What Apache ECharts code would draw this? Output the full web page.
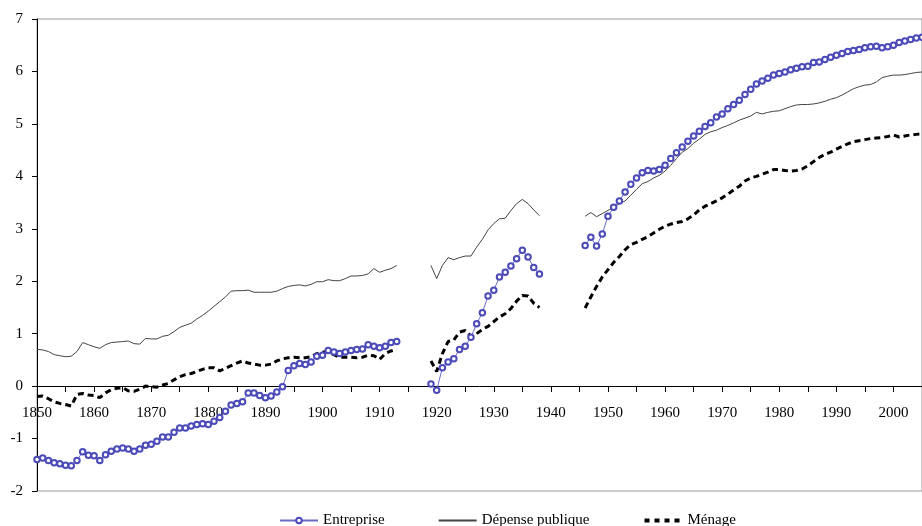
<!DOCTYPE html>
<html>
<head>
<meta charset="utf-8">
<script src="https://cdn.jsdelivr.net/npm/echarts@6/dist/echarts.min.js"></script>
<style>
  html, body { margin: 0; padding: 0; background: #fff; }
  #chart { width: 922px; height: 526px; }
</style>
</head>
<body>
<div id="chart"></div>
<script>
// années 1850-2005 (axe des catégories)
var years = [];
for (var y = 1850; y <= 2005; y++) years.push(String(y));

// trois périodes : 1850-1913, 1919-1938, 1946-2005
var entreprise1850 = [
  -1.40, -1.37, -1.42, -1.46, -1.48, -1.51, -1.52, -1.42, -1.25, -1.32,
  -1.33, -1.42, -1.31, -1.24, -1.20, -1.18, -1.20, -1.24, -1.20, -1.13,
  -1.11, -1.05, -0.97, -0.97, -0.88, -0.80, -0.80, -0.76, -0.73, -0.72,
  -0.73, -0.67, -0.60, -0.48, -0.36, -0.33, -0.30, -0.13, -0.13, -0.18,
  -0.22, -0.19, -0.11, -0.01, 0.30, 0.39, 0.43, 0.41, 0.46, 0.57,
  0.59, 0.68, 0.65, 0.62, 0.65, 0.68, 0.70, 0.71, 0.79, 0.76,
  0.73, 0.76, 0.83, 0.85
];
var entreprise1919 = [0.04, -0.08, 0.35, 0.46, 0.52, 0.70, 0.76, 0.93, 1.19, 1.40,
  1.72, 1.83, 2.08, 2.17, 2.29, 2.43, 2.59, 2.46, 2.26, 2.14];
var entreprise1946 = [
  2.68, 2.84, 2.67, 2.90, 3.24, 3.41, 3.53, 3.70, 3.85, 3.97,
  4.07, 4.11, 4.10, 4.13, 4.21, 4.34, 4.45, 4.56, 4.67, 4.77,
  4.86, 4.95, 5.02, 5.13, 5.19, 5.29, 5.37, 5.45, 5.56, 5.66,
  5.76, 5.82, 5.87, 5.93, 5.96, 5.99, 6.03, 6.06, 6.09, 6.10,
  6.17, 6.18, 6.23, 6.27, 6.31, 6.34, 6.38, 6.40, 6.42, 6.45,
  6.47, 6.48, 6.45, 6.47, 6.50, 6.55, 6.58, 6.61, 6.64, 6.65
];

var depense1850 = [
  0.70, 0.69, 0.66, 0.60, 0.58, 0.56, 0.57, 0.66, 0.83, 0.79,
  0.75, 0.72, 0.79, 0.83, 0.84, 0.85, 0.86, 0.81, 0.80, 0.91,
  0.90, 0.90, 0.95, 0.97, 1.04, 1.12, 1.16, 1.20, 1.28, 1.35,
  1.43, 1.52, 1.61, 1.70, 1.81, 1.82, 1.82, 1.83, 1.79, 1.79,
  1.79, 1.79, 1.81, 1.86, 1.90, 1.92, 1.93, 1.91, 1.94, 1.99,
  1.99, 2.03, 2.01, 2.01, 2.05, 2.10, 2.10, 2.11, 2.14, 2.24,
  2.17, 2.21, 2.24, 2.30
];
var depense1919 = [2.30, 2.05, 2.30, 2.45, 2.41, 2.45, 2.48, 2.48, 2.65, 2.80,
  2.98, 3.10, 3.19, 3.20, 3.35, 3.48, 3.56, 3.48, 3.36, 3.25];
var depense1946 = [
  3.24, 3.31, 3.23, 3.29, 3.35, 3.41, 3.48, 3.53, 3.64, 3.75,
  3.86, 3.90, 3.97, 4.02, 4.10, 4.21, 4.34, 4.46, 4.53, 4.63,
  4.71, 4.80, 4.85, 4.88, 4.93, 4.97, 5.02, 5.07, 5.11, 5.15,
  5.22, 5.19, 5.22, 5.24, 5.25, 5.29, 5.33, 5.36, 5.37, 5.37,
  5.38, 5.40, 5.43, 5.47, 5.50, 5.55, 5.61, 5.67, 5.71, 5.74,
  5.75, 5.80, 5.88, 5.91, 5.93, 5.93, 5.94, 5.96, 5.98, 5.99
];

var menage1850 = [
  -0.20, -0.19, -0.24, -0.30, -0.33, -0.35, -0.38, -0.16, -0.14, -0.17,
  -0.18, -0.22, -0.13, -0.07, -0.04, -0.03, -0.09, -0.10, -0.06, 0.00,
  -0.01, -0.02, 0.02, 0.05, 0.12, 0.18, 0.22, 0.24, 0.28, 0.32,
  0.35, 0.35, 0.29, 0.34, 0.39, 0.44, 0.48, 0.44, 0.42, 0.40,
  0.40, 0.42, 0.48, 0.52, 0.54, 0.55, 0.54, 0.54, 0.56, 0.62,
  0.65, 0.65, 0.60, 0.55, 0.55, 0.55, 0.54, 0.55, 0.59, 0.58,
  0.51, 0.62, 0.67, 0.70
];
var menage1919 = [0.48, 0.28, 0.62, 0.85, 0.88, 1.03, 1.06, 0.95, 1.00, 1.08,
  1.14, 1.23, 1.32, 1.38, 1.48, 1.62, 1.73, 1.72, 1.58, 1.50];
var menage1946 = [
  1.49, 1.70, 1.90, 2.08, 2.22, 2.36, 2.47, 2.60, 2.70, 2.74,
  2.80, 2.85, 2.92, 2.99, 3.05, 3.09, 3.12, 3.14, 3.19, 3.26,
  3.36, 3.43, 3.48, 3.53, 3.59, 3.66, 3.74, 3.81, 3.91, 3.97,
  4.00, 4.04, 4.08, 4.13, 4.13, 4.11, 4.10, 4.11, 4.14, 4.20,
  4.28, 4.36, 4.42, 4.46, 4.52, 4.57, 4.62, 4.66, 4.68, 4.70,
  4.72, 4.73, 4.74, 4.76, 4.79, 4.75, 4.77, 4.79, 4.80, 4.81
];

// met les trois morceaux bout à bout, avec des trous (null) pour les guerres
function build (a, b, c) {
  var res = years.map(function () { return null; });
  a.forEach(function (v, i) { res[i] = v; });
  b.forEach(function (v, i) { res[1919 - 1850 + i] = v; });
  c.forEach(function (v, i) { res[1946 - 1850 + i] = v; });
  return res;
}

var font = 'Liberation Serif, Times New Roman, serif';
var chart = echarts.init(document.getElementById('chart'));
chart.setOption({
  animation: false,
  backgroundColor: '#fff',
  textStyle: { fontFamily: font },
  grid: {
    left: 37, right: -2, top: 19, bottom: 35,
    show: true, borderColor: '#999', borderWidth: 1
  },
  legend: {
    left: 274, top: 508,
    itemWidth: 38, itemHeight: 7, itemGap: 53,
    textStyle: { fontFamily: font, fontSize: 15, color: '#000' },
    data: [
      { name: 'Entreprise' },
      { name: 'Dépense publique', itemStyle: { opacity: 0 } },
      { name: 'Ménage', itemStyle: { opacity: 0 }, lineStyle: { width: 4, type: [5, 5] } }
    ]
  },
  xAxis: {
    type: 'category',
    data: years,
    boundaryGap: false,
    position: 'bottom',
    // l'axe passe par zéro : on le remonte depuis le bas de la grille
    offset: -105,
    axisLine: { onZero: false, lineStyle: { color: '#000', width: 1 } },
    axisTick: { interval: 4, length: 6, lineStyle: { color: '#000' } },
    axisLabel: {
      interval: 9, margin: 20,
      fontFamily: font, fontSize: 15, color: '#000'
    },
    splitLine: { show: false }
  },
  yAxis: {
    type: 'value',
    min: -2, max: 7, interval: 1,
    axisLine: { show: true, lineStyle: { color: '#000', width: 1 } },
    axisTick: { show: true, length: 5, lineStyle: { color: '#000' } },
    axisLabel: { margin: 14, fontFamily: font, fontSize: 15, color: '#000' },
    splitLine: { show: false }
  },
  series: [
    {
      name: 'Entreprise',
      type: 'line',
      data: build(entreprise1850, entreprise1919, entreprise1946),
      symbol: 'emptyCircle',
      symbolSize: 5.5,
      showAllSymbol: true,
      itemStyle: { color: '#4a4ab8', borderWidth: 1 },
      lineStyle: { color: '#6a6ac8', width: 1 },
      z: 3
    },
    {
      name: 'Dépense publique',
      type: 'line',
      data: build(depense1850, depense1919, depense1946),
      symbol: 'none',
      itemStyle: { color: '#222' },
      lineStyle: { color: '#444', width: 1 },
      z: 2
    },
    {
      name: 'Ménage',
      type: 'line',
      data: build(menage1850, menage1919, menage1946),
      symbol: 'none',
      itemStyle: { color: '#000' },
      lineStyle: { color: '#000', width: 3, type: [6, 4] },
      z: 2
    }
  ]
});
</script>
</body>
</html>
